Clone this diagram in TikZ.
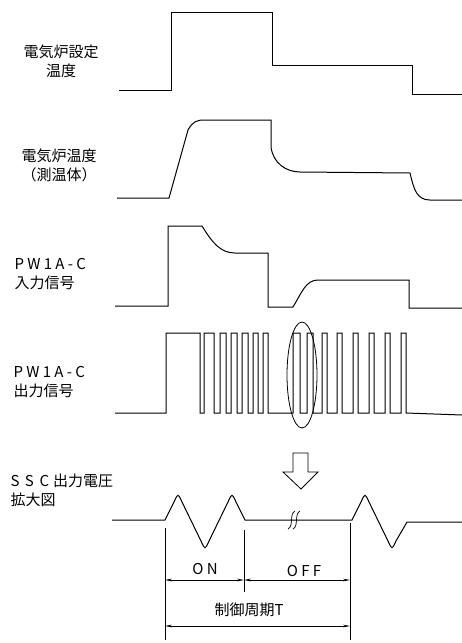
\documentclass[tikz,border=0pt]{standalone}
\usepackage{fontspec}
\setmainfont{Noto Sans CJK JP}
\newfontfamily\spaced[LetterSpace=22]{Noto Sans CJK JP}
\newfontfamily\widespaced[LetterSpace=38]{Noto Sans CJK JP}
\usetikzlibrary{arrows.meta}

\begin{document}
\begin{tikzpicture}[x=1pt,y=-1pt,font=\fontsize{15}{19}\selectfont,
  wave/.style={line width=1pt,line join=miter},
  dimline/.style={line width=0.6pt,{Stealth[length=7pt,width=2.6pt]}-{Stealth[length=7pt,width=2.6pt]}},
  extline/.style={line width=0.6pt}]
\useasboundingbox (0,0) rectangle (462,643);

\node[align=center] (settemp) at (61,61) {電気炉設定\\温度};
\node[align=center] (furnace) at (59,165) {電気炉温度\\（測温体）};
\node[align=left,anchor=west] (input) at (11,274) {{\spaced PW1A-C}\\入力信号};
\node[align=left,anchor=west] (output) at (10,382) {{\spaced PW1A-C}\\出力信号};
\node[align=left,anchor=west] (ssc) at (7,490) {{\widespaced SSC}\hspace{4pt}出力電圧\\拡大図};

\draw[wave] (119,90) -- (171,90) -- (171,12) -- (272,12) -- (272,65) -- (412,65) -- (412,94) -- (462,94);
\draw[wave] (117,198) -- (169,198) -- (188,130) .. controls (193,121) and (197,120) .. (205,120) -- (271,120) -- (271,147)
  .. controls (273,163) and (286,172) .. (300,172) -- (410,173) .. controls (414,190) and (417,200) .. (430,200) -- (462,200);
\draw[wave] (115,306) -- (168,306) -- (168,226) -- (202,226) .. controls (212,242) and (220,253) .. (235,253) -- (268,253) -- (268,307)
  -- (293,307) .. controls (302,292) and (306,280) .. (318,280) -- (409,280) -- (409,308) -- (462,308);
\draw[wave] (115,413) \foreach \up/\down in {166/200,204/214,220/226,231/237,242/248,253/258,263/268,
  293/300,307/313,322/327,337/342,353/358,369/374,385/390,401/406}
  { -- (\up,413) -- (\up,333) -- (\down,333) -- (\down,413) } -- (462,415);
\draw[line width=0.8pt] (302,375) ellipse [x radius=15,y radius=53];

\draw[line width=0.8pt] (293,453) -- (308,453) -- (308,472) -- (318,472) -- (301,489) -- (283,472) -- (293,472) -- cycle;

\draw[wave] (112,520) -- (165,520) -- (174,502) .. controls (178,493) .. (182,502) -- (201,541) .. controls (205,550) .. (209,541)
  -- (228,502) .. controls (232,493) .. (236,502) -- (245,520) -- (352,520) -- (361,502) .. controls (365,493) .. (369,502)
  -- (388,541) .. controls (392,550) .. (396,541) -- (407,522) -- (462,522);
\draw[line width=0.7pt] (288,529) .. controls (294,526) and (289,514) .. (295,511);
\draw[line width=0.7pt] (293,529) .. controls (299,526) and (294,514) .. (300,511);

\coordinate (onstart) at (165,528);
\coordinate (offstart) at (244,530);
\coordinate (offend) at (350,523);
\draw[extline] (onstart) -- (165,640);
\draw[extline] (offstart) -- (244,592);
\draw[extline] (offend) -- (350,640);
\draw[dimline] (165,580) -- (244,580);
\draw[dimline] (244,580) -- (350,580);
\draw[dimline] (165,626) -- (350,626);
\node (on) at (205,569) {\spaced ON};
\node (off) at (304,571) {\spaced OFF};
\node (period) at (249,610) {制御周期T};
\end{tikzpicture}
\end{document}
